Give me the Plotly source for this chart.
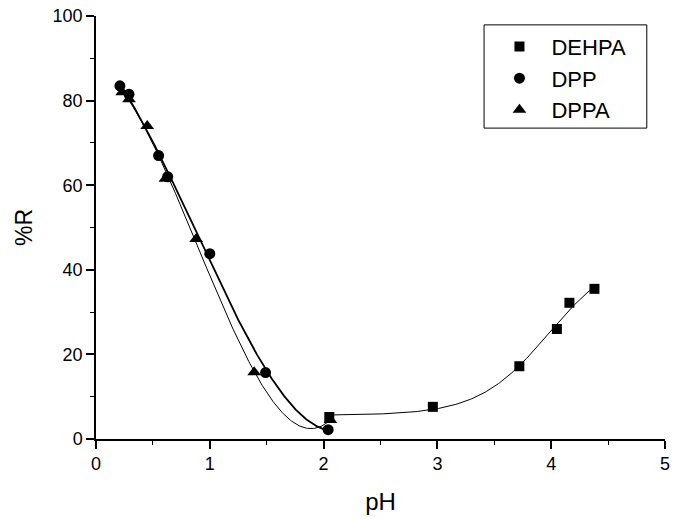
import numpy as np
import plotly.graph_objects as go

# Data
dehpa_ph = [2.05, 2.96, 3.72, 4.05, 4.16, 4.38]
dehpa_r = [5.2, 7.6, 17.2, 26.0, 32.2, 35.5]
dpp_ph = [0.21, 0.29, 0.55, 0.63, 1.00, 1.49, 2.04]
dpp_r = [83.5, 81.5, 67.0, 62.0, 43.8, 15.7, 2.2]
dppa_ph = [0.23, 0.29, 0.45, 0.61, 0.88, 1.39, 2.06]
dppa_r = [82.0, 80.3, 74.0, 61.5, 47.3, 15.8, 4.5]

xticks = [0, 1, 2, 3, 4, 5]
yticks = [0, 20, 40, 60, 80, 100]

FONT = "Liberation Sans, Arial, sans-serif"


def poly_fit(xs, ys, deg):
    c = np.polyfit(xs, ys, deg)
    xx = np.linspace(min(xs), max(xs), 200)
    return xx, np.polyval(c, xx)


def boltzmann_fit(xs, ys):
    # sigmoidal (Boltzmann) least-squares fit: grid over x0, dx; linear solve for A1, A2
    xs = np.asarray(xs, float)
    ys = np.asarray(ys, float)
    best = None
    for x0 in np.linspace(3.0, 5.5, 126):
        for dx in np.linspace(0.1, 1.0, 91):
            s = 1.0 / (1.0 + np.exp((xs - x0) / dx))
            M = np.column_stack([s, 1 - s])
            coef, *_ = np.linalg.lstsq(M, ys, rcond=None)
            err = np.sum((M @ coef - ys) ** 2)
            if best is None or err < best[0]:
                best = (err, x0, dx, coef)
    _, x0, dx, (a1, a2) = best
    xx = np.linspace(xs.min(), xs.max(), 200)
    s = 1.0 / (1.0 + np.exp((xx - x0) / dx))
    return xx, a1 * s + a2 * (1 - s)


fig = go.Figure()

curves = [poly_fit(dpp_ph, dpp_r, 3) + (1.8,),
          poly_fit(dppa_ph, dppa_r, 3) + (1.0,),
          boltzmann_fit(dehpa_ph, dehpa_r) + (1.0,)]
for xx, yy, w in curves:
    fig.add_trace(go.Scatter(x=xx, y=yy, mode="lines", line=dict(color="black", width=w),
                             showlegend=False, hoverinfo="skip"))

fig.add_trace(go.Scatter(x=dehpa_ph, y=dehpa_r, mode="markers", name="DEHPA",
                         marker=dict(symbol="square", size=10, color="black")))
fig.add_trace(go.Scatter(x=dpp_ph, y=dpp_r, mode="markers", name="DPP",
                         marker=dict(symbol="circle", size=11, color="black")))
fig.add_trace(go.Scatter(x=dppa_ph, y=dppa_r, mode="markers", name="DPPA",
                         marker=dict(symbol="triangle-up", size=12, color="black")))

# legend frame
fig.add_shape(type="rect", xref="paper", yref="paper", x0=0.682, x1=0.968, y0=0.735, y1=0.979,
              line=dict(color="black", width=1), fillcolor="rgba(0,0,0,0)", layer="below")

fig.update_layout(
    width=676, height=519,
    margin=dict(l=96, r=11, t=16, b=80),
    paper_bgcolor="white", plot_bgcolor="white",
    font=dict(family=FONT, size=18, color="black"),
    legend=dict(x=0.688, y=0.977, xanchor="left", yanchor="top",
                borderwidth=0, bgcolor="rgba(0,0,0,0)",
                font=dict(size=22), itemsizing="trace", itemwidth=54, tracegroupgap=0),
    xaxis=dict(range=[0, 5], tickvals=xticks, ticktext=[str(v) for v in xticks],
               automargin=False,
               showgrid=False, zeroline=False, showline=True, linecolor="black", linewidth=1.5,
               ticks="outside", ticklen=8, tickwidth=1.5, tickcolor="black",
               minor=dict(dtick=0.5, ticks="outside", ticklen=4, tickwidth=1, tickcolor="black"),
               title=dict(text="pH", font=dict(size=24), standoff=20)),
    yaxis=dict(range=[0, 100], tickvals=yticks, ticktext=[str(v) for v in yticks],
               automargin=False,
               showgrid=False, zeroline=False, showline=True, linecolor="black", linewidth=1.5,
               ticks="outside", ticklen=8, tickwidth=1.5, tickcolor="black",
               minor=dict(dtick=10, ticks="outside", ticklen=4, tickwidth=1, tickcolor="black"),
               title=dict(text="%R", font=dict(size=23), standoff=14)),
)

fig.write_html("out.html")
